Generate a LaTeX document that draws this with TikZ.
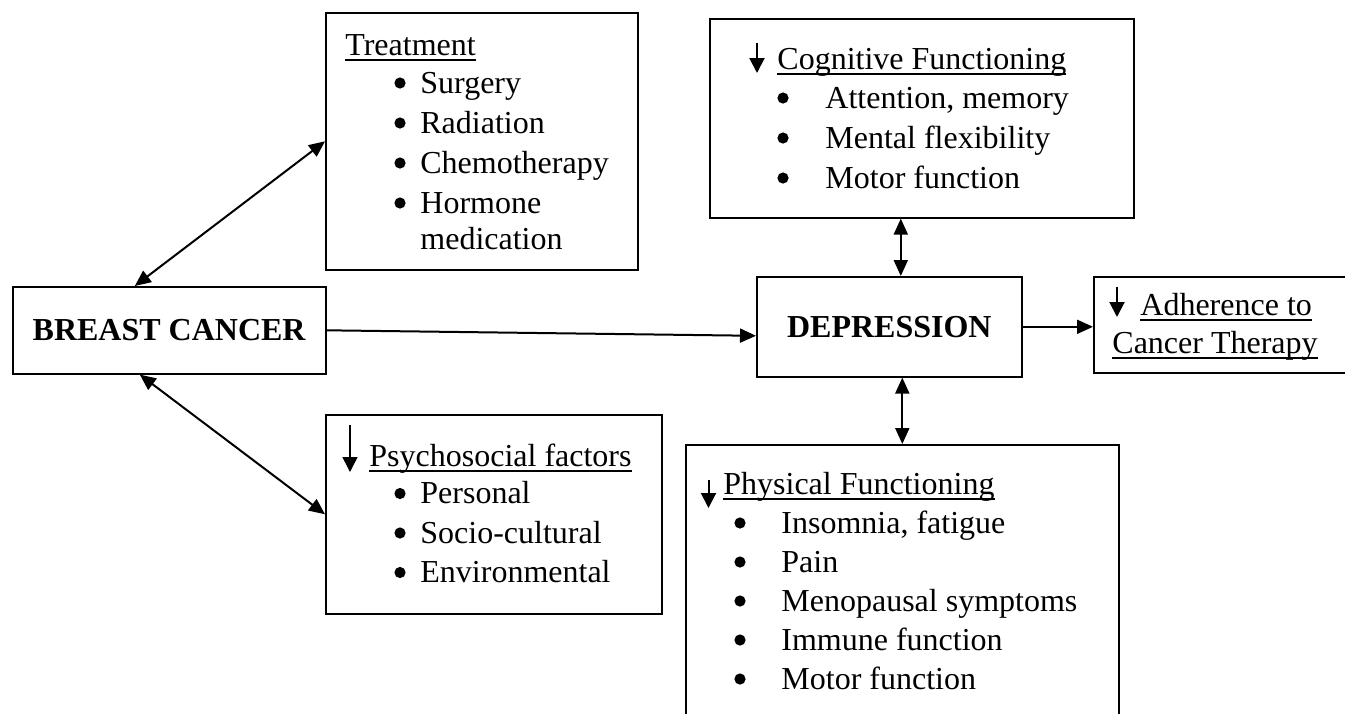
\documentclass[tikz,border=0pt]{standalone}
\usepackage{fontspec}
\setmainfont{Liberation Serif}
\newcommand{\ulin}[1]{\leavevmode\setbox0=\hbox{#1}\rlap{\vrule height -1.9pt depth 2.9pt width \wd0}\box0}
\usetikzlibrary{arrows.meta}

\begin{document}
\begin{tikzpicture}[x=0.5pt,y=-0.5pt,
    every node/.style={font=\fontsize{16}{19.5}\selectfont},
    box/.style={draw,line width=0.8pt,inner sep=0pt,anchor=north west},
    txt/.style={inner sep=0pt,anchor=base west},
    link/.style={line width=1pt,{Triangle[length=8pt,width=7pt]}-{Triangle[length=8pt,width=7pt]}},
    flow/.style={line width=1pt,-{Triangle[length=8pt,width=7pt]}},
    dn/.style={line width=1pt,-{Triangle[length=7.5pt,width=7.5pt]}}]
  \clip (0,0) rectangle (1345,713);

  % boxes
  \node[box,minimum width=156.5pt,minimum height=43.5pt] (bc) at (12,286) {\textbf{BREAST CANCER}};
  \node[box,minimum width=156pt,minimum height=128.5pt] (treat) at (325,12) {};
  \node[box,minimum width=168pt,minimum height=99.5pt] (psy) at (325,414) {};
  \node[box,minimum width=132.5pt,minimum height=50pt] (dep) at (756,276) {\textbf{DEPRESSION}};
  \node[box,minimum width=212pt,minimum height=99.5pt] (cog) at (709,18) {};
  \node[box,minimum width=216.5pt,minimum height=145pt] (phys) at (685,444) {};
  \node[box,minimum width=140pt,minimum height=48pt] (adh) at (1093,276) {};

  % treatment
  \node[txt] (treatt) at (345,55) {\ulin{Treatment}};
  \foreach \t [count=\i] in {Surgery,Radiation,Chemotherapy,Hormone}{
    \node[txt] (tr\i) at (420,53+40*\i) {\t};
    \fill ([xshift=-10pt,yshift=5pt]tr\i.base west) circle (2.8pt);
  }
  \node[txt] (tr5) at (420,249) {medication};

  % psychosocial
  \coordinate (psyA) at (350,425);
  \coordinate (psyB) at (350,472);
  \draw[dn,line width=0.8pt] (psyA) -- (psyB);
  \node[txt] (psyt) at (369,466) {\ulin{Psychosocial factors}};
  \foreach \t [count=\i] in {Personal,Socio-cultural,Environmental}{
    \node[txt] (ps\i) at (420,464+39.5*\i) {\t};
    \fill ([xshift=-10pt,yshift=5pt]ps\i.base west) circle (2.8pt);
  }

  % cognitive
  \coordinate (cogA) at (757,43);
  \coordinate (cogB) at (757,73);
  \draw[dn] (cogA) -- (cogB);
  \node[txt] (cogt) at (777,69) {\ulin{Cognitive Functioning}};
  \foreach \t [count=\i] in {{Attention, memory},{Mental flexibility},{Motor function}}{
    \node[txt] (cg\i) at (825,68+40*\i) {\t};
    \fill ([xshift=-21pt,yshift=5pt]cg\i.base west) circle (2.8pt);
  }

  % physical
  \coordinate (physA) at (708.5,480);
  \coordinate (physB) at (708.5,508);
  \draw[dn] (physA) -- (physB);
  \node[txt] (physt) at (723,494) {\ulin{Physical Functioning}};
  \foreach \t [count=\i] in {{Insomnia, fatigue},Pain,{Menopausal symptoms},{Immune function},{Motor function}}{
    \node[txt] (ph\i) at (781,494+39*\i) {\t};
    \fill ([xshift=-20.5pt,yshift=5pt]ph\i.base west) circle (2.8pt);
  }

  % adherence
  \coordinate (adhA) at (1117,287);
  \coordinate (adhB) at (1117,317);
  \draw[dn] (adhA) -- (adhB);
  \node[txt] (adht) at (1140,315) {\ulin{Adherence to}};
  \node[txt] (adhb) at (1112,353) {\ulin{Cancer Therapy}};

  % connections
  \draw ([xshift=-17.25pt]bc.north) edge[link] (treat.west);
  \draw ([xshift=-14.75pt]bc.south) edge[link] (psy.west);
  \draw (bc.east) edge[flow] ([yshift=-4.5pt]dep.west);
  \draw ([xshift=5.75pt]dep.north) edge[link] ([xshift=5.75pt]dep.north |- cog.south);
  \draw (phys.north |- dep.south) edge[link] (phys.north);
  \draw (dep.east) edge[flow] (dep.east -| adh.west);
\end{tikzpicture}
\end{document}
